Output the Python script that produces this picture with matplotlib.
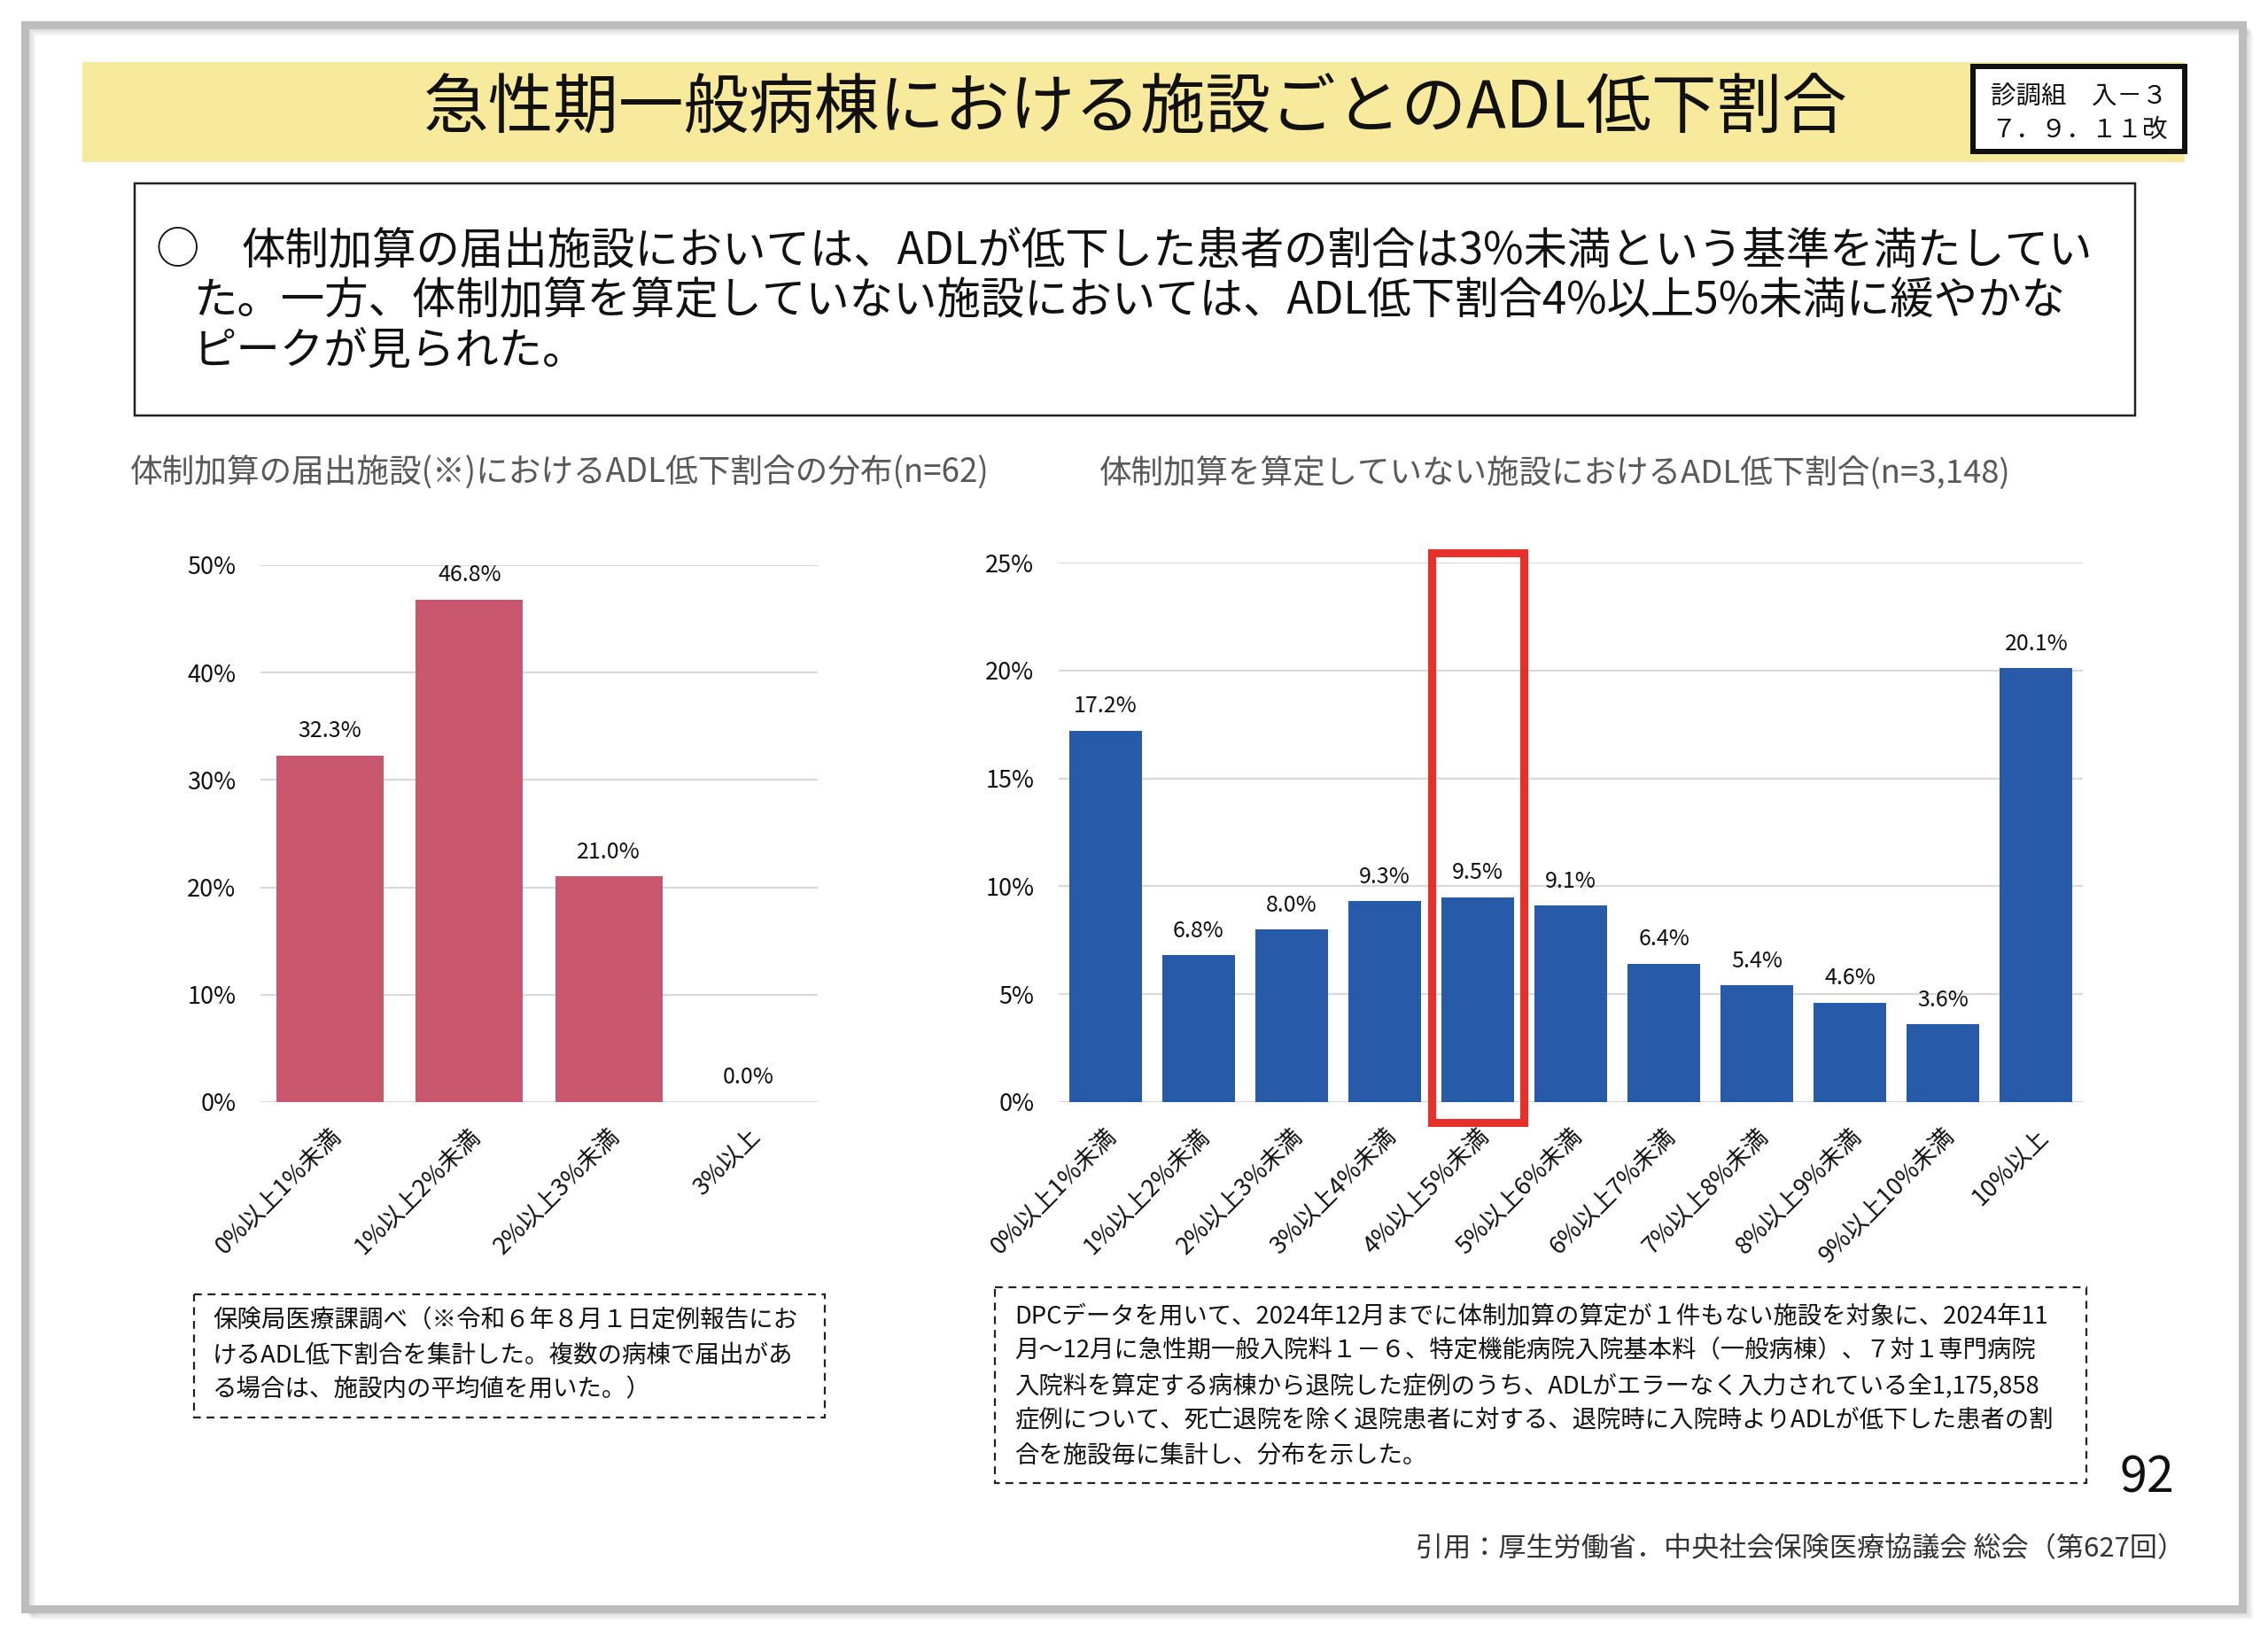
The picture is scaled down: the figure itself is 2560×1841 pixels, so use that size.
import matplotlib
matplotlib.use("Agg")
import matplotlib.pyplot as plt
from matplotlib.patches import Rectangle

plt.rcParams['font.family'] = ['Noto Sans CJK JP', 'DejaVu Sans']

# ---------------- data ----------------
left_categories = ["0%以上1%未満", "1%以上2%未満", "2%以上3%未満", "3%以上"]
left_values = [32.3, 46.8, 21.0, 0.0]
left_yticks = [0, 10, 20, 30, 40, 50]

right_categories = ["0%以上1%未満", "1%以上2%未満", "2%以上3%未満", "3%以上4%未満",
                    "4%以上5%未満", "5%以上6%未満", "6%以上7%未満", "7%以上8%未満",
                    "8%以上9%未満", "9%以上10%未満", "10%以上"]
right_values = [17.2, 6.8, 8.0, 9.3, 9.5, 9.1, 6.4, 5.4, 4.6, 3.6, 20.1]
right_yticks = [0, 5, 10, 15, 20, 25]
highlight_index = 4

title = "急性期一般病棟における施設ごとのADL低下割合"
badge_lines = ["診調組　入－３", "７．９．１１改"]
summary_lines = ["体制加算の届出施設においては、ADLが低下した患者の割合は3%未満という基準を満たしてい",
                 "た。一方、体制加算を算定していない施設においては、ADL低下割合4%以上5%未満に緩やかな",
                 "ピークが見られた。"]
left_subtitle = "体制加算の届出施設(※)におけるADL低下割合の分布(n=62)"
right_subtitle = "体制加算を算定していない施設におけるADL低下割合(n=3,148)"
left_note = ["保険局医療課調べ（※令和６年８月１日定例報告にお",
             "けるADL低下割合を集計した。複数の病棟で届出があ",
             "る場合は、施設内の平均値を用いた。）"]
right_note = ["DPCデータを用いて、2024年12月までに体制加算の算定が１件もない施設を対象に、2024年11",
              "月～12月に急性期一般入院料１－６、特定機能病院入院基本料（一般病棟）、７対１専門病院",
              "入院料を算定する病棟から退院した症例のうち、ADLがエラーなく入力されている全1,175,858",
              "症例について、死亡退院を除く退院患者に対する、退院時に入院時よりADLが低下した患者の割",
              "合を施設毎に集計し、分布を示した。"]
page_number = "92"
citation = "引用：厚生労働省．中央社会保険医療協議会 総会（第627回）"

W, H = 2560, 1841
DPI = 100
PT = 72 / DPI  # points per pixel

fig = plt.figure(figsize=(W / DPI, H / DPI), dpi=DPI)
fig.patch.set_facecolor('white')

# overlay axes in pixel coords
ov = fig.add_axes([0, 0, 1, 1], zorder=0)
ov.set_xlim(0, W)
ov.set_ylim(H, 0)
ov.axis('off')

# outer frame with shadow
for i, a in enumerate([0.10, 0.08, 0.06, 0.04, 0.02]):
    off = 3 + i * 2
    ov.add_patch(Rectangle((28 + off, 28 + off), 2503, 1788, fill=False,
                           edgecolor='black', alpha=a, lw=4 * PT))
ov.add_patch(Rectangle((28, 28), 2503, 1788, fill=False, edgecolor='#BDBDBD', lw=9 * PT))

# yellow title band
ov.add_patch(Rectangle((93, 70), 2373, 113, facecolor='#F8EA9C', edgecolor='none'))
ov.text(1282, 124, title, fontsize=53, ha='center', va='center', color='#111111')

# badge
ov.add_patch(Rectangle((2227, 75), 239, 96, facecolor='white', edgecolor='#111111', lw=6 * PT))
ov.text(2347, 110, badge_lines[0], fontsize=20.5, ha='center', va='center', color='#111111')
ov.text(2347, 147, badge_lines[1], fontsize=20.5, ha='center', va='center', color='#111111')

# summary box
ov.add_patch(Rectangle((152, 207), 2258, 262, fill=False, edgecolor='#222222', lw=2.5 * PT))
ov.text(176, 283, "○", fontsize=35.6, ha='left', va='center', color='#111111')
ov.text(272, 283, summary_lines[0], fontsize=35.6, ha='left', va='center', color='#111111')
ov.text(218, 340, summary_lines[1], fontsize=35.6, ha='left', va='center', color='#111111')
ov.text(218, 397, summary_lines[2], fontsize=35.6, ha='left', va='center', color='#111111')

# subtitles
ov.text(147, 534, left_subtitle, fontsize=26.4, ha='left', va='center', color='#595959')
ov.text(1241, 534, right_subtitle, fontsize=26.3, ha='left', va='center', color='#595959')

# notes
ov.add_patch(Rectangle((219, 1461), 712, 139, fill=False, edgecolor='#222222',
                       lw=2.2 * PT, linestyle=(0, (4, 3))))
for i, line in enumerate(left_note):
    ov.text(240, 1491 + i * 39, line, fontsize=19.8, ha='left', va='center', color='#111111')
ov.add_patch(Rectangle((1123, 1453), 1232, 221, fill=False, edgecolor='#222222',
                       lw=2.2 * PT, linestyle=(0, (4, 3))))
for i, line in enumerate(right_note):
    ov.text(1145, 1486 + i * 39.3, line, fontsize=19.7, ha='left', va='center', color='#111111')

ov.text(2423, 1669, page_number, fontsize=40, ha='center', va='center', color='#111111')
ov.text(2466, 1749, citation, fontsize=22.4, ha='right', va='center', color='#333333')


def px_axes(x0, x1, ytop, ybot):
    return fig.add_axes([x0 / W, 1 - ybot / H, (x1 - x0) / W, (ybot - ytop) / H], zorder=2)


def style(ax, yticks, ymax, n):
    ax.set_facecolor('none')
    ax.set_ylim(0, ymax)
    ax.set_xlim(-0.5, n - 0.5)
    ax.set_yticks(yticks)
    ax.set_yticklabels([f"{t}%" for t in yticks], fontsize=19.5, color='#111111')
    for s in ax.spines.values():
        s.set_visible(False)
    ax.tick_params(axis='both', length=0)
    ax.tick_params(axis='y', pad=20)
    ax.grid(axis='y', color='#D9D9D9', lw=2.2 * PT, zorder=0)
    ax.set_axisbelow(True)


# left chart
axL = px_axes(294, 923, 638, 1244)
style(axL, left_yticks, 50, len(left_categories))
xl = range(len(left_categories))
axL.bar(xl, left_values, width=0.77, color='#C9576E', zorder=2)
for x, v in zip(xl, left_values):
    axL.text(x, v + 1.2, f"{v:.1f}%", ha='center', va='bottom', fontsize=18, color='#111111')
axL.set_xticks(list(xl))
axL.set_xticklabels(left_categories, rotation=45, ha='right', rotation_mode='anchor',
                    fontsize=19.5, color='#111111')
axL.tick_params(axis='x', pad=18)

# right chart
axR = px_axes(1195, 2351, 635, 1244)
style(axR, right_yticks, 25, len(right_categories))
xr = range(len(right_categories))
axR.bar(xr, right_values, width=0.78, color='#275BA9', zorder=2)
for x, v in zip(xr, right_values):
    axR.text(x, v + 0.6, f"{v:.1f}%", ha='center', va='bottom', fontsize=18, color='#111111')
axR.set_xticks(list(xr))
axR.set_xticklabels(right_categories, rotation=45, ha='right', rotation_mode='anchor',
                    fontsize=19.5, color='#111111')
axR.tick_params(axis='x', pad=18)
axR.add_patch(Rectangle((highlight_index - 0.49, -0.95), 0.99, 26.4, fill=False,
                        edgecolor='#E8302A', lw=9 * PT, zorder=5, clip_on=False))

fig.savefig("out.png", dpi=DPI)
